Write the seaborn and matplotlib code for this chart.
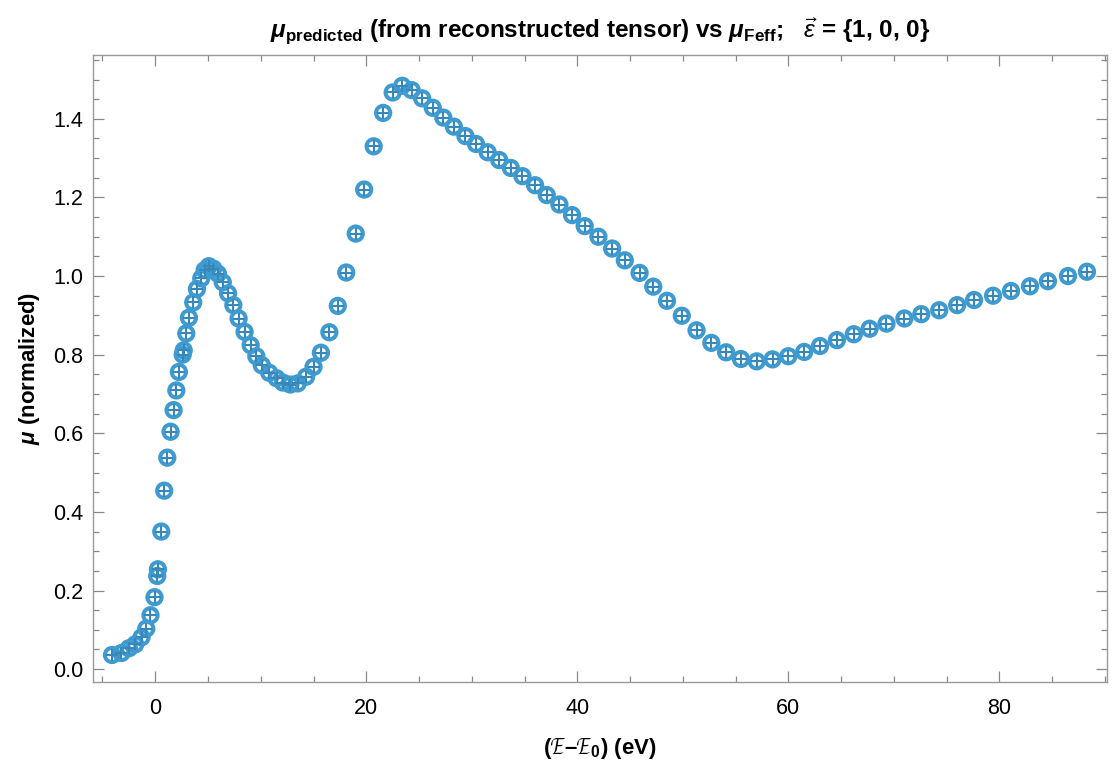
import matplotlib
matplotlib.use("Agg")
from matplotlib import pyplot as plt
from matplotlib.ticker import MultipleLocator, FormatStrFormatter
import seaborn as sns

# Data
energy = [-4.1, -3.2, -2.5, -1.9, -1.3, -0.85, -0.45, -0.07, 0.19, 0.25,
          0.57, 0.85, 1.14, 1.45, 1.74, 2.0, 2.24, 2.6, 2.7, 2.94,
          3.19, 3.6, 3.95, 4.36, 4.68, 5.08, 5.5, 5.94, 6.4, 6.9,
          7.4, 7.9, 8.47, 9.04, 9.58, 10.1, 10.8, 11.5, 12.1, 12.8,
          13.5, 14.3, 15.0, 15.7, 16.5, 17.3, 18.1, 19.0, 19.8, 20.7,
          21.6, 22.5, 23.4, 24.3, 25.3, 26.3, 27.3, 28.3, 29.4, 30.4,
          31.5, 32.6, 33.7, 34.8, 36.0, 37.1, 38.3, 39.5, 40.7, 42.0,
          43.3, 44.5, 45.9, 47.2, 48.5, 49.9, 51.3, 52.7, 54.1, 55.5,
          57.0, 58.5, 60.0, 61.5, 63.0, 64.6, 66.2, 67.7, 69.3, 71.0,
          72.6, 74.3, 76.0, 77.6, 79.4, 81.1, 82.9, 84.6, 86.5, 88.3]
mu_feff = [0.036, 0.041, 0.053, 0.063, 0.081, 0.103, 0.137, 0.183, 0.237, 0.254,
           0.350, 0.454, 0.538, 0.604, 0.659, 0.709, 0.756, 0.800, 0.811, 0.854,
           0.894, 0.933, 0.967, 0.994, 1.015, 1.025, 1.019, 1.006, 0.984, 0.956,
           0.926, 0.892, 0.858, 0.824, 0.796, 0.773, 0.754, 0.740, 0.729, 0.724,
           0.727, 0.744, 0.769, 0.805, 0.857, 0.924, 1.009, 1.108, 1.220, 1.330,
           1.415, 1.467, 1.484, 1.473, 1.452, 1.428, 1.403, 1.380, 1.356, 1.336,
           1.315, 1.295, 1.275, 1.254, 1.231, 1.206, 1.182, 1.155, 1.127, 1.100,
           1.070, 1.040, 1.008, 0.973, 0.937, 0.899, 0.862, 0.830, 0.806, 0.789,
           0.783, 0.788, 0.796, 0.807, 0.822, 0.837, 0.852, 0.866, 0.879, 0.892,
           0.903, 0.913, 0.926, 0.939, 0.950, 0.962, 0.974, 0.987, 1.000, 1.011]
# predicted values sit on top of the Feff values in the picture
mu_predicted = list(mu_feff)

sns.set_style("ticks")
plt.rcParams['font.family'] = ['Liberation Sans', 'DejaVu Sans']
plt.rcParams['text.color'] = 'black'
plt.rcParams['axes.labelcolor'] = 'black'
plt.rcParams['mathtext.fontset'] = 'custom'
plt.rcParams['mathtext.rm'] = 'Liberation Sans'
plt.rcParams['mathtext.it'] = 'Liberation Sans:italic'
plt.rcParams['mathtext.bf'] = 'Liberation Sans:bold'
plt.rcParams['mathtext.bfit'] = 'Liberation Sans:bold:italic'
plt.rcParams['mathtext.fallback'] = 'stix'

circle_blue = '#3f9bcf'
plus_blue = '#3787bb'
frame_grey = '#9a9a9a'

fig = plt.figure(figsize=(11.19, 7.71), dpi=100)
ax = fig.add_axes([0.0831, 0.1158, 0.9062, 0.8132])

# Feff spectrum: open circles
sns.scatterplot(x=energy, y=mu_feff, ax=ax, marker='o', s=105,
                facecolor='none', edgecolor=circle_blue, linewidth=2.9,
                zorder=3)
# predicted spectrum: plus signs
sns.scatterplot(x=energy, y=mu_predicted, ax=ax, marker='+', s=70,
                color=plus_blue, linewidth=1.5, zorder=4)

ax.set_xlim(-5.9, 90.2)
ax.set_ylim(-0.032, 1.563)
ax.xaxis.set_major_locator(MultipleLocator(20))
ax.xaxis.set_minor_locator(MultipleLocator(5))
ax.yaxis.set_major_locator(MultipleLocator(0.2))
ax.yaxis.set_minor_locator(MultipleLocator(0.05))
ax.yaxis.set_major_formatter(FormatStrFormatter('%.1f'))

for side in ['left', 'right', 'top', 'bottom']:
    ax.spines[side].set_visible(True)
    ax.spines[side].set_color(frame_grey)
    ax.spines[side].set_linewidth(1.0)

ax.tick_params(which='both', direction='in', top=True, right=True,
               color='#888888', width=0.9, labelsize=15.5, labelcolor='black')
ax.tick_params(which='major', length=8)
ax.tick_params(which='minor', length=4.5)
ax.tick_params(axis='x', pad=12)
ax.tick_params(axis='y', pad=7)

ax.set_title(r"$\mathbfit{\mu}_{\mathbf{predicted}}$ (from reconstructed tensor) vs "
             r"$\mathbfit{\mu}_{\mathbf{Feff}}$;   $\vec{\epsilon}$ = {1, 0, 0}",
             fontsize=17.5, fontweight='bold', pad=12, color='black')
ax.set_xlabel(r"($\mathbf{\mathcal{E}}$–$\mathbf{\mathcal{E}}_\mathbf{0}$) (eV)",
              fontsize=16, fontweight='bold', labelpad=12)
ax.set_ylabel(r"$\mathbfit{\mu}$ (normalized)", fontsize=16, fontweight='bold',
              labelpad=8)

fig.savefig("out.png", dpi=100)
